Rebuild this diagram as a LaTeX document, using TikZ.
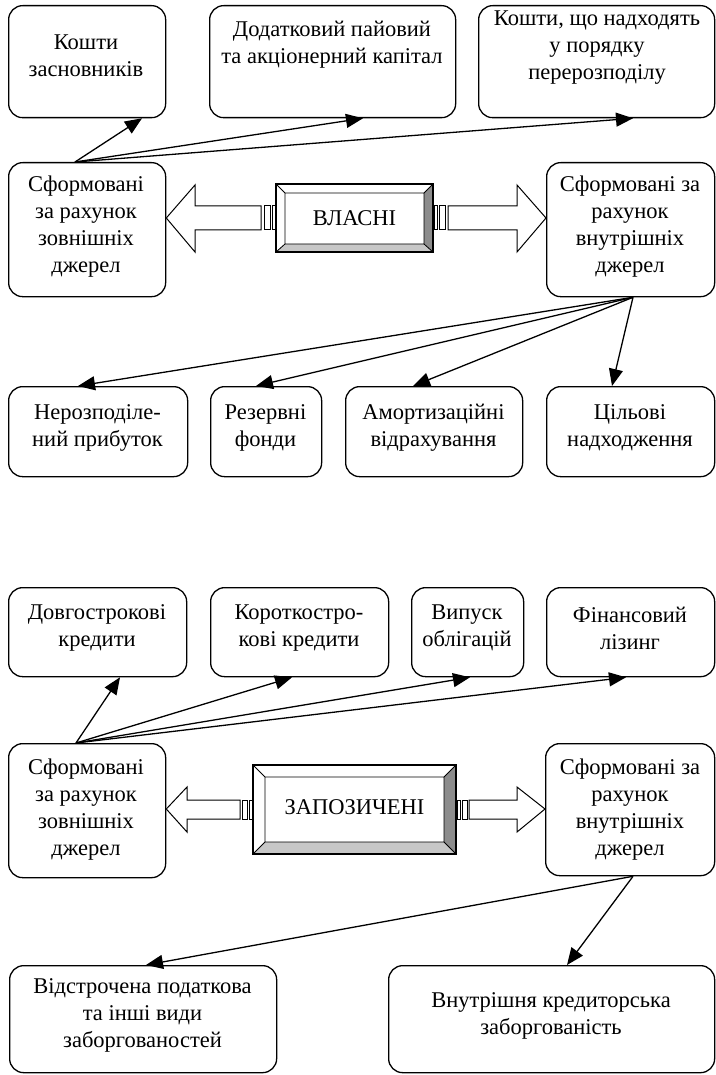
\documentclass[tikz,border=0pt]{standalone}
\usepackage{fontspec}
\setmainfont{Liberation Serif}
\usetikzlibrary{arrows.meta,calc}
\newcommand\mkbox[5]{%
  \node[rbox, anchor=north west, minimum width=#4pt-#2pt, minimum height=#5pt-#3pt] (#1) at (#2,#3) {};}
\begin{document}
\begin{tikzpicture}[x=1pt,y=-1pt,
  rbox/.style={draw, line width=1.3pt, rounded corners=14pt, inner sep=0pt},
  txt/.style={align=center, font=\fontsize{22.5}{27}\selectfont, inner sep=0pt},
  conn/.style={line width=1.3pt, -{Triangle[length=17pt,width=14pt]}},
  hollow/.style={draw, line width=1pt, fill=white},
  light/.style={fill=white},
  dark/.style={fill=black!45},
  mid/.style={fill=black!22}]
\useasboundingbox (0,0) rectangle (715,1075);

% ---------- section 1 ----------
\mkbox{B1}{8}{5}{165}{117}
\mkbox{B2}{209}{5}{455}{117}
\mkbox{B3}{478}{5}{714}{117}
\node[txt] (tB1) at (86,56) {Кошти\\засновників};
\node[txt] (tB2) at (332,45) {Додатковий пайовий\\та акціонерний капітал};
\node[txt] (tB3) at (597,48) {Кошти, що надходять\\у порядку\\перерозподілу};

\mkbox{L1}{8}{162}{165}{296}
\mkbox{R1}{546}{162}{714}{296}
\node[txt] (tL1) at (86,227) {Сформовані\\за рахунок\\зовнішніх\\джерел};
\node[txt] (tR1) at (630,227) {Сформовані за\\рахунок\\внутрішніх\\джерел};

% bevel box ВЛАСНІ
\coordinate (V1) at (276,184); \coordinate (V2) at (433,184);
\coordinate (V3) at (433,252); \coordinate (V4) at (276,252);
\coordinate (v1) at (285,193); \coordinate (v2) at (424,193);
\coordinate (v3) at (424,244); \coordinate (v4) at (285,244);
\fill[light] (V1)--(V2)--(v2)--(v1)--cycle;
\fill[light] (V1)--(v1)--(v4)--(V4)--cycle;
\fill[dark] (V2)--(V3)--(v3)--(v2)--cycle;
\fill[mid] (V4)--(v4)--(v3)--(V3)--cycle;
\draw[line width=1.1pt] (V1)--(V2)--(V3)--(V4)--cycle;
\draw[line width=0.8pt] (v1)--(v2)--(v3)--(v4)--cycle (V1)--(v1) (V2)--(v2) (V3)--(v3) (V4)--(v4);
\node[txt] (vl) at (354.5,218) {ВЛАСНІ};

% hollow striped arrows
\draw[hollow] (L1.east |- 0,218) -- (195,185) -- (195,206) -- (261,206) -- (261,230) -- (195,230) -- (195,252) -- cycle;
\draw[hollow] (264,206) rectangle (270,230);
\draw[hollow] (272,206) rectangle (275,230);
\draw[hollow] (R1.west |- 0,218) -- (517,185) -- (517,206) -- (448,206) -- (448,230) -- (517,230) -- (517,252) -- cycle;
\draw[hollow] (439,206) rectangle (445,230);
\draw[hollow] (434,206) rectangle (437,230);

\mkbox{C1}{8}{386}{187}{476}
\mkbox{C2}{210}{386}{321}{476}
\mkbox{C3}{345}{386}{522}{476}
\mkbox{C4}{546}{386}{714}{476}
\node[txt] (tC1) at (97.5,428) {Нерозподіле-\\ний прибуток};
\node[txt] (tC2) at (265.5,428) {Резервні\\фонди};
\node[txt] (tC3) at (433.5,428) {Амортизаційні\\відрахування};
\node[txt] (tC4) at (630,428) {Цільові\\надходження};

% connectors section 1
\coordinate (L1o) at ([xshift=67pt]L1.north west);
\draw[conn] (L1o) -- ([xshift=134pt]B1.south west);
\draw[conn] (L1o) -- ([xshift=154pt]B2.south west);
\draw[conn] (L1o) -- ([xshift=155pt]B3.south west);
\coordinate (R1o) at ([xshift=87pt]R1.south west);
\draw[conn] (R1o) -- ([xshift=70pt]C1.north west);
\draw[conn] (R1o) -- ([xshift=46pt]C2.north west);
\draw[conn] (R1o) -- ([xshift=68pt]C3.north west);
\draw[conn] (R1o) -- ([xshift=66pt]C4.north west);

% ---------- section 2 ----------
\mkbox{D1}{8}{587}{186}{676}
\mkbox{D2}{210}{587}{388}{676}
\mkbox{D3}{411}{587}{523}{676}
\mkbox{D4}{546}{587}{714}{676}
\node[txt] (tD1) at (97,628) {Довгострокові\\кредити};
\node[txt] (tD2) at (299,628) {Короткостро-\\кові кредити};
\node[txt] (tD3) at (467,628) {Випуск\\облігацій};
\node[txt] (tD4) at (630,628) {Фінансовий\\лізинг};

\mkbox{L2}{8}{743}{165}{877}
\mkbox{R2}{545}{743}{714}{875}
\node[txt] (tL2) at (86,810) {Сформовані\\за рахунок\\зовнішніх\\джерел};
\node[txt] (tR2) at (630,810) {Сформовані за\\рахунок\\внутрішніх\\джерел};

% bevel box ЗАПОЗИЧЕНІ
\coordinate (Z1) at (253,765); \coordinate (Z2) at (456,765);
\coordinate (Z3) at (456,854); \coordinate (Z4) at (253,854);
\coordinate (z1) at (265,777); \coordinate (z2) at (444,777);
\coordinate (z3) at (444,842); \coordinate (z4) at (265,842);
\fill[light] (Z1)--(Z2)--(z2)--(z1)--cycle;
\fill[light] (Z1)--(z1)--(z4)--(Z4)--cycle;
\fill[dark] (Z2)--(Z3)--(z3)--(z2)--cycle;
\fill[mid] (Z4)--(z4)--(z3)--(Z3)--cycle;
\draw[line width=1.1pt] (Z1)--(Z2)--(Z3)--(Z4)--cycle;
\draw[line width=0.8pt] (z1)--(z2)--(z3)--(z4)--cycle (Z1)--(z1) (Z2)--(z2) (Z3)--(z3) (Z4)--(z4);
\node[txt] (zl) at (354.5,807) {ЗАПОЗИЧЕНІ};

\draw[hollow] (L2.east |- 0,809) -- (187,787) -- (187,800) -- (240,800) -- (240,819) -- (187,819) -- (187,832) -- cycle;
\draw[hollow] (242,800) rectangle (247,819);
\draw[hollow] (249,800) rectangle (252,819);
\draw[hollow] (R2.west |- 0,809) -- (517,787) -- (517,800) -- (469,800) -- (469,819) -- (517,819) -- (517,832) -- cycle;
\draw[hollow] (462,800) rectangle (467,819);
\draw[hollow] (457,800) rectangle (460,819);

\mkbox{E1}{9}{965}{276}{1072}
\mkbox{E2}{388}{965}{714}{1072}
\node[txt] (tE1) at (142.5,1015) {Відстрочена податкова\\та інші види\\заборгованостей};
\node[txt] (tE2) at (551,1016) {Внутрішня кредиторська\\заборгованість};

% connectors section 2
\coordinate (L2o) at ([xshift=68pt]L2.north west);
\draw[conn] (L2o) -- ([xshift=112pt]D1.south west);
\draw[conn] (L2o) -- ([xshift=82pt]D2.south west);
\draw[conn] (L2o) -- ([xshift=59pt]D3.south west);
\draw[conn] (L2o) -- ([xshift=80pt]D4.south west);
\coordinate (R2o) at ([xshift=88pt]R2.south west);
\draw[conn] (R2o) -- ([xshift=137pt]E1.north west);
\draw[conn] (R2o) -- ([xshift=179pt]E2.north west);
\end{tikzpicture}
\end{document}
